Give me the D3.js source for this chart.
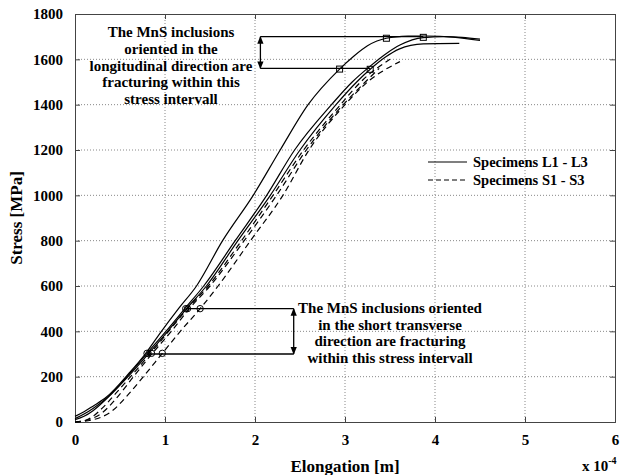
<!DOCTYPE html>
<html>
<head>
<meta charset="utf-8">
<script src="https://cdn.jsdelivr.net/npm/d3@7"></script>
<style>
body { margin: 0; background: #fff; }
text { font-family: "Liberation Serif", "Times New Roman", serif; font-weight: bold; }
</style>
</head>
<body>
<div id="chart"></div>
<script>
// elongation in 1e-4 m, stress in MPa
var specL1 = [[0,25],[0.1,45],[0.2,70],[0.35,110],[0.6,215],[0.78,300],[0.96,400],[1.15,500],[1.35,600],[1.64,800],[1.98,1000],[2.28,1200],[2.59,1400],[2.94,1557],[3.1,1615],[3.25,1660],[3.46,1693],[3.7,1702],[3.9,1703],[4.2,1698],[4.5,1683]];
var specL2 = [[0,15],[0.1,35],[0.2,60],[0.37,112],[0.6,210],[0.8,303],[1.01,400],[1.22,500],[1.43,600],[1.78,800],[2.13,1000],[2.44,1200],[2.85,1400],[3.08,1500],[3.28,1570],[3.46,1626],[3.61,1663],[3.87,1696],[4.1,1700],[4.3,1697],[4.5,1689]];
var specL3 = [[0,10],[0.1,25],[0.2,50],[0.37,110],[0.6,205],[0.82,303],[1.03,400],[1.24,500],[1.46,600],[1.81,800],[2.17,1000],[2.5,1200],[2.9,1400],[3.13,1500],[3.28,1556],[3.45,1610],[3.6,1645],[3.87,1668],[4.27,1670]];
var specS1 = [[0,0],[0.1,5],[0.2,25],[0.3,60],[0.45,125],[0.65,215],[0.84,303],[1.04,400],[1.25,500],[1.48,600],[1.85,800],[2.2,1000],[2.54,1200],[2.95,1400],[3.2,1510],[3.5,1600]];
var specS2 = [[0,0],[0.15,10],[0.3,40],[0.45,100],[0.65,200],[0.86,303],[1.07,400],[1.27,500],[1.5,600],[1.88,800],[2.24,1000],[2.57,1200],[2.98,1400],[3.2,1490],[3.38,1560]];
var specS3 = [[0,0],[0.2,10],[0.4,45],[0.6,125],[0.78,210],[0.97,303],[1.17,400],[1.39,500],[1.59,600],[1.95,800],[2.31,1000],[2.6,1200],[3.0,1400],[3.25,1500],[3.61,1590]];

var squareMarks = [[2.94,1557],[3.28,1556],[3.46,1693],[3.87,1697]];
var circleMarks = [[0.8,303],[0.85,303],[0.97,303],[1.23,500],[1.25,500],[1.39,500]];

var xTicks = [0, 1, 2, 3, 4, 5, 6];
var yTicks = [0, 200, 400, 600, 800, 1000, 1200, 1400, 1600, 1800];

var noteTop = ["The MnS inclusions", "oriented in the", "longitudinal direction are", "fracturing within this", "stress intervall"];
var noteBottom = ["The MnS inclusions oriented", "in the short transverse", "direction are fracturing", "within this stress intervall"];
var legendLabels = ["Specimens L1 - L3", "Specimens S1 - S3"];

var margin = {top: 14, right: 8, bottom: 53, left: 75};
var W = 623, H = 475;
var w = W - margin.left - margin.right;
var h = H - margin.top - margin.bottom;

var svg = d3.select("#chart").append("svg")
    .attr("width", W)
    .attr("height", H);
var g = svg.append("g")
    .attr("transform", "translate(" + margin.left + "," + margin.top + ")");

var x = d3.scaleLinear().domain([0, 6]).range([0, w]);
var y = d3.scaleLinear().domain([0, 1800]).range([h, 0]);

// grid
g.selectAll(".vgrid").data(xTicks.slice(1, -1)).enter().append("line")
    .attr("x1", d => x(d)).attr("x2", d => x(d))
    .attr("y1", 0).attr("y2", h)
    .attr("stroke", "#888").attr("stroke-width", 1)
    .attr("stroke-dasharray", "1,2");
g.selectAll(".hgrid").data(yTicks.slice(1, -1)).enter().append("line")
    .attr("x1", 0).attr("x2", w)
    .attr("y1", d => y(d)).attr("y2", d => y(d))
    .attr("stroke", "#888").attr("stroke-width", 1)
    .attr("stroke-dasharray", "1,2");

// axes
var xAxis = g.append("g").attr("transform", "translate(0," + h + ")")
    .call(d3.axisBottom(x).tickValues(xTicks).tickSize(-5).tickPadding(12).tickFormat(d3.format("d")));
var yAxis = g.append("g")
    .call(d3.axisLeft(y).tickValues(yTicks).tickSize(-5).tickPadding(12).tickFormat(d3.format("d")));
g.append("g")
    .call(d3.axisTop(x).tickValues(xTicks).tickSize(-5).tickFormat(""));
g.append("g").attr("transform", "translate(" + w + ",0)")
    .call(d3.axisRight(y).tickValues(yTicks).tickSize(-5).tickFormat(""));
g.selectAll(".domain, .tick line").attr("stroke", "#444");
g.selectAll(".tick text").attr("font-size", 15).attr("fill", "#000")
    .style("font-family", "Liberation Serif").style("font-weight", "bold");

// curves
var line = d3.line()
    .x(d => x(d[0]))
    .y(d => y(d[1]))
    .curve(d3.curveMonotoneX);

[specL1, specL2, specL3].forEach(function(s) {
    g.append("path").datum(s).attr("d", line)
        .attr("fill", "none").attr("stroke", "#000").attr("stroke-width", 1.2);
});
[specS1, specS2, specS3].forEach(function(s) {
    g.append("path").datum(s).attr("d", line)
        .attr("fill", "none").attr("stroke", "#000").attr("stroke-width", 1.2)
        .attr("stroke-dasharray", "6,4");
});

// annotation lines
var topArrowX = 2.06, botArrowX = 2.43;
function hline(x0, x1, yv) {
    g.append("line")
        .attr("x1", x(x0)).attr("x2", x(x1))
        .attr("y1", y(yv)).attr("y2", y(yv))
        .attr("stroke", "#000").attr("stroke-width", 1.3);
}
hline(topArrowX, squareMarks[3][0], 1700);
hline(topArrowX, squareMarks[1][0], 1560);
hline(circleMarks[3][0], botArrowX, 500);
hline(circleMarks[0][0], botArrowX, 300);

svg.append("defs").append("marker")
    .attr("id", "arr").attr("viewBox", "0 0 10 10")
    .attr("refX", 9).attr("refY", 5)
    .attr("markerWidth", 6).attr("markerHeight", 6)
    .attr("orient", "auto-start-reverse")
    .append("path").attr("d", "M0,1 L10,5 L0,9 Z").attr("fill", "#000");

function varrow(xv, y0, y1) {
    g.append("line")
        .attr("x1", x(xv)).attr("x2", x(xv))
        .attr("y1", y(y0)).attr("y2", y(y1))
        .attr("stroke", "#000").attr("stroke-width", 1.3)
        .attr("marker-start", "url(#arr)").attr("marker-end", "url(#arr)");
}
varrow(topArrowX, 1700, 1560);
varrow(botArrowX, 500, 300);

// markers
g.selectAll(".sq").data(squareMarks).enter().append("rect")
    .attr("x", d => x(d[0]) - 3).attr("y", d => y(d[1]) - 3)
    .attr("width", 6).attr("height", 6)
    .attr("fill", "none").attr("stroke", "#000").attr("stroke-width", 1);
g.selectAll(".ci").data(circleMarks).enter().append("circle")
    .attr("cx", d => x(d[0])).attr("cy", d => y(d[1]))
    .attr("r", 3.2)
    .attr("fill", "none").attr("stroke", "#000").attr("stroke-width", 1);

// notes
svg.append("text").attr("x", 171).attr("y", 37).attr("text-anchor", "middle")
    .attr("font-size", 15)
    .selectAll("tspan").data(noteTop).enter().append("tspan")
    .attr("x", 171).attr("dy", (d, i) => i ? 16.8 : 0).text(d => d);
svg.append("text").attr("x", 390).attr("y", 313).attr("text-anchor", "middle")
    .attr("font-size", 15)
    .selectAll("tspan").data(noteBottom).enter().append("tspan")
    .attr("x", 390).attr("dy", (d, i) => i ? 16.5 : 0).text(d => d);

// legend
var leg = svg.append("g").attr("transform", "translate(428,162)");
legendLabels.forEach(function(lab, i) {
    leg.append("line").attr("x1", 0).attr("x2", 39)
        .attr("y1", i * 18).attr("y2", i * 18)
        .attr("stroke", "#000").attr("stroke-width", 1.2)
        .attr("stroke-dasharray", i ? "5,3" : null);
    leg.append("text").attr("x", 45).attr("y", i * 18 + 5)
        .attr("font-size", 14.5).text(lab);
});

// axis titles
svg.append("text").attr("x", margin.left + x(3)).attr("y", 472)
    .attr("text-anchor", "middle").attr("font-size", 17).text("Elongation [m]");
var ex = svg.append("text").attr("x", 582).attr("y", 471).attr("font-size", 15);
ex.append("tspan").text("x 10");
ex.append("tspan").attr("dy", -7).attr("font-size", 10).text("-4");
svg.append("text")
    .attr("transform", "translate(22," + (margin.top + h / 2) + ") rotate(-90)")
    .attr("text-anchor", "middle").attr("font-size", 17).text("Stress [MPa]");
</script>
</body>
</html>
